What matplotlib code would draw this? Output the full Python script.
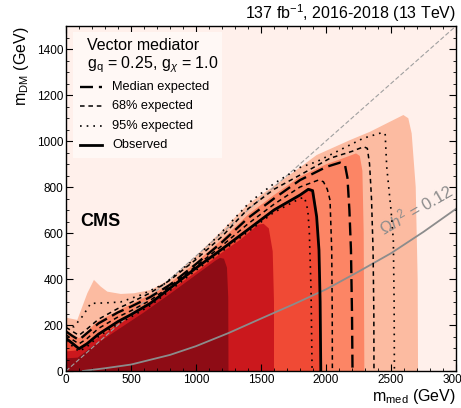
import matplotlib
matplotlib.use("Agg")
import matplotlib.pyplot as plt
import numpy as np
from matplotlib.patches import Rectangle
from matplotlib.lines import Line2D

plt.rcParams['font.family'] = ['Liberation Sans', 'DejaVu Sans']
plt.rcParams['mathtext.fontset'] = 'custom'
plt.rcParams['mathtext.rm'] = 'Liberation Sans'
plt.rcParams['mathtext.it'] = 'Liberation Sans:italic'
plt.rcParams['mathtext.bf'] = 'Liberation Sans:bold'

# ---------------- data (GeV) ----------------
# filled exclusion bands: upper boundary (x, y) of each region, outermost first
band_light_x = [0, 87, 164, 215, 267, 318, 421, 523, 651, 805, 1000, 1200, 1400, 1600, 1800, 1928, 2185, 2338, 2595, 2633, 2659, 2690, 2705, 2708]
band_light_y = [232, 222, 338, 396, 367, 345, 335, 338, 352, 400, 500, 610, 725, 805, 885, 939, 1004, 1040, 1113, 1099, 1033, 800, 400, 0]

band_salmon_x = [0, 100, 164, 241, 497, 754, 1000, 1200, 1400, 1600, 1800, 2005, 2108, 2231, 2260, 2280, 2290, 2295]
band_salmon_y = [178, 142, 172, 215, 290, 362, 472, 572, 680, 765, 845, 900, 920, 946, 935, 870, 600, 0]

band_orange_x = [0, 100, 160, 250, 400, 500, 650, 800, 1000, 1200, 1400, 1600, 1800, 1864, 1905, 1935, 1952, 1960, 1965]
band_orange_y = [148, 103, 124, 166, 221, 251, 301, 366, 454, 536, 621, 706, 771, 796, 790, 675, 526, 300, 0]

band_red_x = [0, 90, 200, 400, 600, 800, 1000, 1200, 1350, 1477, 1520, 1560, 1590, 1600, 1600]
band_red_y = [85, 90, 128, 200, 272, 350, 430, 515, 575, 636, 640, 620, 520, 300, 0]

band_dark_x = [0, 90, 200, 400, 600, 800, 1000, 1150, 1185, 1215, 1238, 1248, 1250]
band_dark_y = [55, 58, 105, 180, 255, 335, 418, 480, 492, 488, 450, 320, 0]

band_colors = ['#fcbba1', '#fc8565', '#f04a35', '#cb181d', '#8e0c15']

# contour lines
obs_x = [0, 50, 100, 160, 250, 400, 500, 650, 800, 1000, 1200, 1400, 1600, 1800, 1864, 1897, 1928, 1946, 1955, 1960]
obs_y = [142, 120, 97, 118, 160, 215, 245, 295, 360, 448, 530, 615, 700, 765, 790, 784, 671, 526, 300, 0]

med_x = [0, 50, 100, 160, 250, 400, 500, 650, 800, 1000, 1200, 1400, 1600, 1800, 2005, 2108, 2146, 2165, 2180, 2192, 2200, 2204]
med_y = [172, 152, 135, 164, 207, 255, 280, 322, 375, 465, 560, 665, 750, 830, 888, 906, 896, 840, 700, 526, 250, 0]

e68lo_x = [0, 50, 100, 160, 250, 400, 500, 650, 800, 1000, 1200, 1400, 1600, 1800, 1941, 1980, 2010, 2031, 2044, 2048, 2049]
e68lo_y = [158, 136, 118, 140, 185, 235, 262, 308, 368, 456, 545, 640, 725, 800, 830, 823, 790, 743, 526, 250, 0]

e68hi_x = [0, 50, 100, 160, 250, 400, 500, 650, 800, 1000, 1200, 1400, 1600, 1800, 2031, 2200, 2290, 2318, 2335, 2350, 2362, 2368, 2369]
e68hi_y = [190, 172, 155, 182, 225, 272, 298, 340, 395, 485, 585, 705, 790, 852, 925, 955, 975, 968, 900, 750, 526, 250, 0]

e95lo_x = [0, 50, 100, 160, 250, 400, 500, 650, 800, 1000, 1200, 1400, 1600, 1800, 1835, 1860, 1872, 1885, 1893]
e95lo_y = [130, 108, 85, 105, 150, 205, 235, 285, 350, 438, 520, 605, 690, 750, 755, 700, 600, 350, 0]

e95hi_x = [0, 60, 130, 190, 300, 420, 574, 754, 1000, 1200, 1415, 1600, 1800, 1928, 2185, 2287, 2428, 2455, 2467, 2500, 2518, 2524, 2526]
e95hi_y = [198, 192, 240, 294, 296, 300, 330, 378, 492, 605, 735, 815, 885, 910, 983, 1012, 1036, 1032, 888, 700, 570, 300, 0]

relic_x = [130, 300, 500, 800, 1000, 1250, 1500, 1750, 2000, 2250, 2500, 2750, 3000]
relic_y = [0, 12, 28, 70, 108, 165, 228, 290, 355, 432, 512, 605, 705]

diag_x = [0, 3000]
diag_y = [0, 1500]

# ---------------- figure ----------------
fig = plt.figure(figsize=(4.61, 4.08), dpi=100)
ax = fig.add_axes([66/461, 1-371/408, 390/461, 345/408])
ax.set_facecolor('#fff0eb')
ax.set_xlim(0, 3000)
ax.set_ylim(0, 1500)

bands = [(band_light_x, band_light_y), (band_salmon_x, band_salmon_y),
         (band_orange_x, band_orange_y), (band_red_x, band_red_y),
         (band_dark_x, band_dark_y)]
for (bx, by), c in zip(bands, band_colors):
    ax.fill([0] + bx, [0] + by, color=c, lw=0, zorder=1)

ax.plot(diag_x, diag_y, color='#a0a0a0', lw=0.8, dashes=(4, 2), zorder=2)
ax.plot(relic_x, relic_y, color='#8c8c8c', lw=1.3, zorder=2)
ax.text(2692, 704, r'$\Omega h^2$ = 0.12', color='#8c8c8c', fontsize=12,
        rotation=30, rotation_mode='anchor', ha='center', va='center', zorder=3)

lk = dict(color='black', zorder=4)
ax.plot(e95lo_x, e95lo_y, lw=1.2, dashes=(1, 3), **lk)
ax.plot(e95hi_x, e95hi_y, lw=1.2, dashes=(1, 3), **lk)
ax.plot(e68lo_x, e68lo_y, lw=1.1, dashes=(3, 2.5), **lk)
ax.plot(e68hi_x, e68hi_y, lw=1.1, dashes=(3, 2.5), **lk)
ax.plot(med_x, med_y, lw=1.7, dashes=(5.5, 2.5), **lk)
ax.plot(obs_x, obs_y, lw=2.0, **lk)

# ticks
ax.set_xticks(np.arange(0, 3001, 500))
ax.set_xticks(np.arange(0, 3001, 100), minor=True)
ax.set_yticks(np.arange(0, 1401, 200))
ax.set_yticks(np.arange(0, 1501, 50), minor=True)
ax.tick_params(which='both', direction='in', top=True, right=True, labelsize=8.5, pad=2)
ax.tick_params(which='major', length=5)
ax.tick_params(which='minor', length=2.5)
for s in ax.spines.values():
    s.set_linewidth(1.0)

ax.set_xlabel(r'm$_{\rm med}$ (GeV)', fontsize=11.5, loc='right', labelpad=1)
ax.set_ylabel(r'm$_{\rm DM}$ (GeV)', fontsize=11.5, loc='top', labelpad=4)

fig.text(456/461, 1-13/408, r'137 fb$^{-1}$, 2016-2018 (13 TeV)', fontsize=11.5,
         ha='right', va='center')

ax.text((80-66)/390, (371-222)/345, 'CMS', transform=ax.transAxes, fontsize=13,
        fontweight='bold', ha='left', va='center', zorder=6)

# legend box
ax.add_patch(Rectangle(((73-66)/390, (371-158)/345), (222-73)/390, (158-32)/345,
                       transform=ax.transAxes, facecolor='#fff8f5', edgecolor='none', zorder=5))
def ay(py):
    return (371-py)/345
def axx(px):
    return (px-66)/390
ax.text(axx(87), ay(46), 'Vector mediator', transform=ax.transAxes, fontsize=11.5,
        ha='left', va='center', zorder=6)
ax.text(axx(87), ay(65), r'g$_{\rm q}$ = 0.25, g$_{\chi}$ = 1.0', transform=ax.transAxes,
        fontsize=11.5, ha='left', va='center', zorder=6)
entries = [('Median expected', dict(lw=1.7, dashes=(5.5, 2.5)), 87),
           ('68% expected', dict(lw=1.1, dashes=(3, 2.5)), 106),
           ('95% expected', dict(lw=1.2, dashes=(1, 3)), 126),
           ('Observed', dict(lw=2.0), 145)]
for lab, st, py in entries:
    ax.add_line(Line2D([axx(80), axx(102)], [ay(py), ay(py)], transform=ax.transAxes,
                       color='black', zorder=6, **st))
    ax.text(axx(112), ay(py), lab, transform=ax.transAxes, fontsize=9.2,
            ha='left', va='center', zorder=6)

fig.savefig('out.png', dpi=100)
